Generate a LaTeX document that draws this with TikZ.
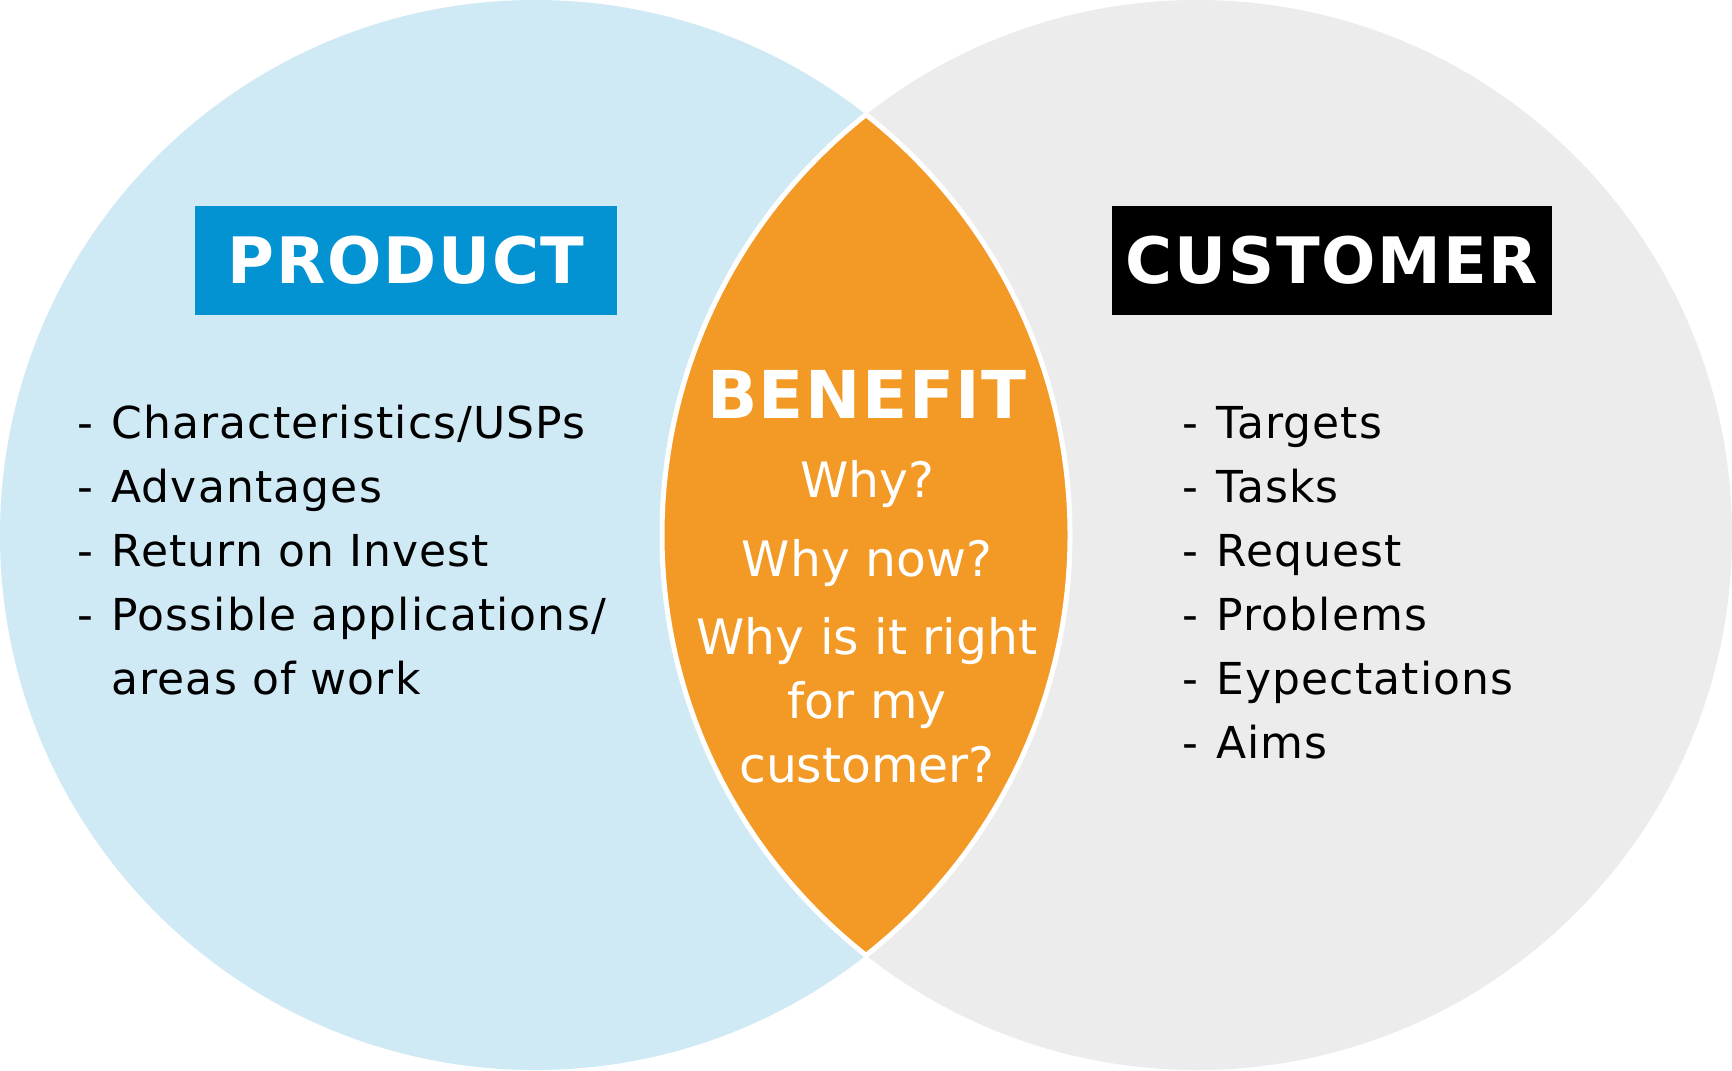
\documentclass[tikz,border=0pt]{standalone}
\usepackage{fontspec}
\setmainfont{DejaVu Sans}
\definecolor{skyblue}{RGB}{207, 233, 245}
\definecolor{lightgrey}{RGB}{236, 236, 236}
\definecolor{carrot}{RGB}{243, 154, 38}
\definecolor{oceanblue}{RGB}{3, 147, 210}
\tikzset{
    heading/.style={text=white, font=\fontsize{32}{38}\selectfont\bfseries\addfontfeatures{LetterSpace=2.8},
                    inner sep=0pt, minimum width=#1, minimum height=54.5pt},
    item/.style={anchor=base west, inner sep=0pt, font=\fontsize{22}{32}\selectfont\addfontfeatures{LetterSpace=2.6}},
    why/.style={anchor=base, inner sep=0pt, text=white, font=\fontsize{24.4}{32}\selectfont}
}
\begin{document}
\begin{tikzpicture}[x=0.5pt, y=-0.5pt]
            \useasboundingbox (0, 0) rectangle (1732, 1070);
            \fill[white] (0, 0) rectangle (1732, 1070);
            \coordinate (prodc) at ( 535, 535);
            \coordinate (custc) at (1197, 535);
            \fill[skyblue]   (prodc) circle (267.5pt);
            \fill[lightgrey] (custc) circle (267.5pt);
            % benefit lens
            \begin{scope}
                \clip (prodc) circle (267.5pt);
                \fill[carrot] (custc) circle (267.5pt);
                \draw[white, line width=2.5pt] (custc) circle (267.5pt);
            \end{scope}
            \begin{scope}
                \clip (custc) circle (267.5pt);
                \draw[white, line width=2.5pt] (prodc) circle (267.5pt);
            \end{scope}
            \node[heading=211pt, fill=oceanblue] (product)  at ( 406, 260.5) {PRODUCT};
            \node[heading=220pt, fill=black]     (customer) at (1332, 260.5) {CUSTOMER};
            \node[why, font=\fontsize{33}{38}\selectfont\bfseries\addfontfeatures{LetterSpace=2.4}] (benefit) at (867, 418) {BENEFIT};
            \node[why] (why1) at (867, 497) {Why?};
            \node[why] (why2) at (867, 576) {Why now?};
            \node[why] (why3) at (867, 654) {Why is it right};
            \node[why] (why4) at (867, 718) {for my};
            \node[why] (why5) at (867, 782) {customer?};
            \foreach \txt [count=\i] in {Characteristics/USPs, Advantages, Return on Invest, Possible applications/}
                \node[item] (prod\i) at (77, 374 + 64*\i) {-\hspace{0.41em}\txt};
            \node[item] (prod5) at (77, 694) {\phantom{-\hspace{0.41em}}areas of work};
            \foreach \txt [count=\i] in {Targets, Tasks, Request, Problems, Eypectations, Aims}
                \node[item] (cust\i) at (1182, 374 + 64*\i) {-\hspace{0.41em}\txt};
        \end{tikzpicture}
\end{document}
